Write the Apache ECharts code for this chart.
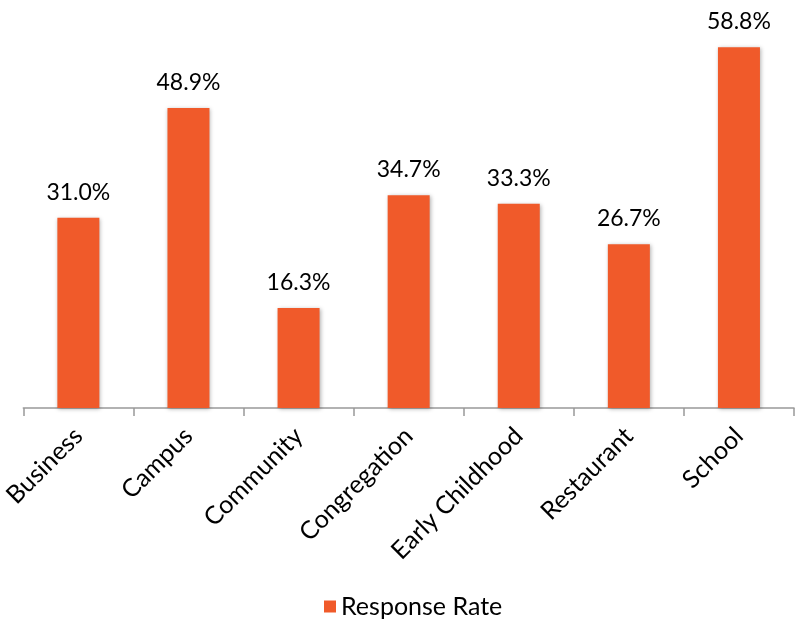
<!DOCTYPE html>
<html>
<head>
<meta charset="utf-8">
<script src="https://cdn.jsdelivr.net/npm/echarts@6/dist/echarts.min.js"></script>
<style>
    html, body { margin: 0; padding: 0; background: #fff; }
    #chart { width: 798px; height: 624px; }
</style>
</head>
<body>
<div id="chart"></div>
<script>
const categories = ['Business', 'Campus', 'Community', 'Congregation', 'Early Childhood', 'Restaurant', 'School'];
const responseRate = [31.0, 48.9, 16.3, 34.7, 33.3, 26.7, 58.8];
const seriesName = 'Response Rate';

const chart = echarts.init(document.getElementById('chart'));
const font = 'Lato, "Open Sans", sans-serif';

const option = {
    animation: false,
    grid: {
        left: 22,
        right: 4,
        top: 40,
        bottom: 216
    },
    legend: {
        bottom: 0,
        left: 319,
        icon: 'rect',
        itemWidth: 12,
        itemHeight: 12,
        itemGap: 8,
        textStyle: {
            color: '#000',
            fontSize: 25,
            fontFamily: font
        },
        data: [seriesName]
    },
    xAxis: {
        type: 'category',
        data: categories,
        axisLine: {
            lineStyle: { color: '#999', width: 1.5 }
        },
        axisTick: {
            show: true,
            length: 8,
            lineStyle: { color: '#999', width: 1.5 }
        },
        axisLabel: {
            rotate: 45,
            color: '#000',
            fontSize: 25,
            fontFamily: font,
            margin: 24,
            interval: 0
        }
    },
    yAxis: {
        type: 'value',
        min: 0,
        max: 60,
        show: false,
        splitLine: { show: false }
    },
    series: [{
        name: seriesName,
        type: 'bar',
        data: responseRate,
        barWidth: 42,
        itemStyle: {
            color: '#F05A2A',
            shadowBlur: 4,
            shadowColor: 'rgba(0,0,0,0.3)',
            shadowOffsetX: 1,
            shadowOffsetY: 1
        },
        label: {
            show: true,
            position: 'top',
            distance: 14,
            color: '#000',
            fontSize: 23,
            fontFamily: font,
            formatter: p => p.value.toFixed(1) + '%'
        }
    }]
};
chart.setOption(option);
</script>
</body>
</html>
